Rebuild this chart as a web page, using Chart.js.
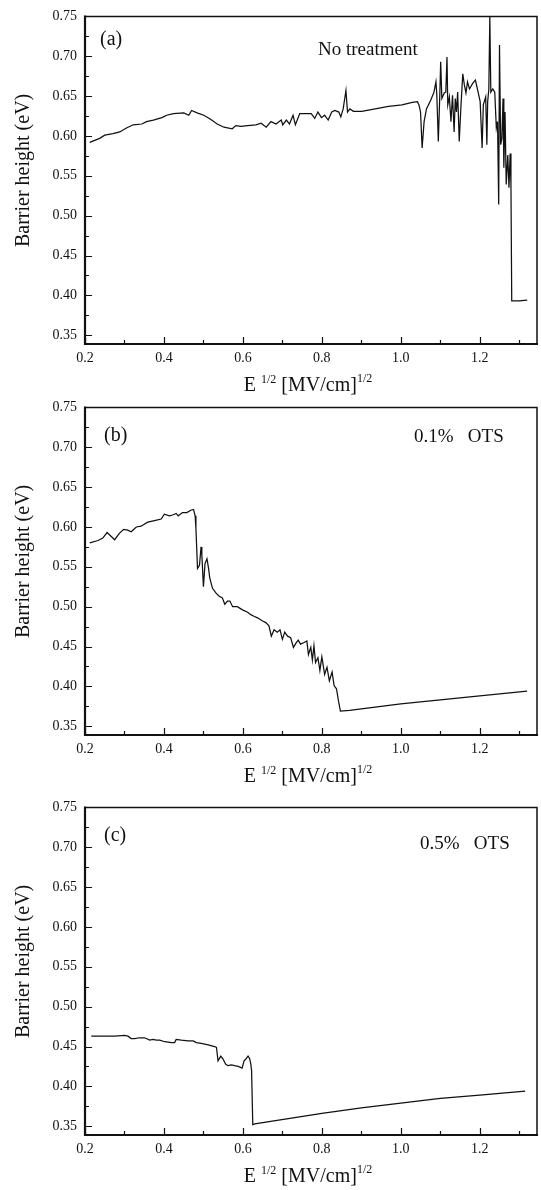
<!DOCTYPE html>
<html>
<head>
<meta charset="utf-8">
<script src="https://cdn.jsdelivr.net/npm/chart.js@4/dist/chart.umd.min.js"></script>
<style>
  body { margin: 0; background: #fff; }
  .panel { position: absolute; left: 0; width: 541px; height: 395px; }
</style>
</head>
<body>
<div class="panel" style="top:0"><canvas id="chartA" width="541" height="395"></canvas></div>
<div class="panel" style="top:391px"><canvas id="chartB" width="541" height="395"></canvas></div>
<div class="panel" style="top:791px"><canvas id="chartC" width="541" height="395"></canvas></div>
<script>
// (a) no treatment
const aX = [0.212, 0.237, 0.25, 0.271, 0.288, 0.305, 0.322, 0.344, 0.356, 0.373, 0.395, 0.407, 0.424, 0.45, 0.463, 0.47, 0.484, 0.501, 0.518, 0.535, 0.552, 0.573, 0.582, 0.595, 0.612, 0.633, 0.646, 0.659, 0.671, 0.684, 0.697, 0.701, 0.71, 0.718, 0.727, 0.733, 0.744, 0.773, 0.782, 0.79, 0.799, 0.807, 0.816, 0.825, 0.833, 0.843, 0.848, 0.854, 0.861, 0.865, 0.871, 0.88, 0.901, 0.935, 0.969, 1.003, 1.029, 1.042, 1.046, 1.05, 1.054, 1.059, 1.065, 1.076, 1.084, 1.089, 1.091, 1.095, 1.099, 1.101, 1.104, 1.11, 1.114, 1.117, 1.119, 1.123, 1.127, 1.131, 1.135, 1.138, 1.141, 1.144, 1.148, 1.152, 1.157, 1.161, 1.165, 1.169, 1.174, 1.182, 1.189, 1.195, 1.201, 1.206, 1.209, 1.215, 1.218, 1.22, 1.223, 1.2255, 1.228, 1.233, 1.238, 1.242, 1.245, 1.248, 1.25, 1.253, 1.256, 1.259, 1.261, 1.264, 1.267, 1.271, 1.274, 1.277, 1.279, 1.281, 1.3, 1.32];
const aY = [0.592, 0.597, 0.601, 0.603, 0.605, 0.61, 0.614, 0.615, 0.618, 0.62, 0.623, 0.626, 0.628, 0.629, 0.626, 0.632, 0.629, 0.626, 0.621, 0.615, 0.611, 0.609, 0.613, 0.612, 0.613, 0.614, 0.616, 0.611, 0.618, 0.615, 0.62, 0.614, 0.62, 0.615, 0.626, 0.614, 0.628, 0.628, 0.622, 0.63, 0.623, 0.626, 0.62, 0.63, 0.632, 0.63, 0.624, 0.634, 0.657, 0.63, 0.634, 0.631, 0.631, 0.634, 0.637, 0.639, 0.642, 0.643, 0.639, 0.63, 0.585, 0.618, 0.634, 0.645, 0.655, 0.668, 0.654, 0.593, 0.655, 0.693, 0.647, 0.654, 0.655, 0.699, 0.639, 0.649, 0.618, 0.651, 0.605, 0.647, 0.63, 0.655, 0.593, 0.634, 0.678, 0.664, 0.654, 0.668, 0.659, 0.666, 0.67, 0.657, 0.643, 0.585, 0.639, 0.649, 0.589, 0.643, 0.659, 0.75, 0.655, 0.659, 0.655, 0.61, 0.618, 0.514, 0.714, 0.589, 0.597, 0.647, 0.56, 0.63, 0.539, 0.576, 0.535, 0.578, 0.539, 0.393, 0.393, 0.394];

// (b) 0.1% OTS
const bX = [0.212, 0.233, 0.245, 0.256, 0.275, 0.287, 0.298, 0.308, 0.317, 0.33, 0.342, 0.359, 0.376, 0.393, 0.401, 0.414, 0.422, 0.431, 0.436, 0.447, 0.458, 0.468, 0.475, 0.479, 0.481, 0.485, 0.49, 0.494, 0.496, 0.5, 0.504, 0.509, 0.513, 0.516, 0.523, 0.532, 0.54, 0.548, 0.554, 0.561, 0.567, 0.574, 0.586, 0.599, 0.612, 0.62, 0.628, 0.637, 0.65, 0.658, 0.666, 0.672, 0.679, 0.687, 0.694, 0.7, 0.706, 0.713, 0.721, 0.728, 0.734, 0.74, 0.746, 0.755, 0.762, 0.766, 0.772, 0.776, 0.78, 0.784, 0.79, 0.795, 0.8, 0.807, 0.813, 0.819, 0.826, 0.831, 0.837, 0.842, 0.847, 0.87, 1.0, 1.2, 1.32];
const bY = [0.58, 0.583, 0.586, 0.593, 0.584, 0.592, 0.597, 0.596, 0.594, 0.6, 0.601, 0.606, 0.608, 0.61, 0.616, 0.614, 0.615, 0.617, 0.614, 0.618, 0.618, 0.621, 0.622, 0.614, 0.598, 0.548, 0.552, 0.575, 0.565, 0.525, 0.554, 0.56, 0.548, 0.536, 0.523, 0.517, 0.513, 0.511, 0.503, 0.507, 0.507, 0.5, 0.5, 0.496, 0.493, 0.49, 0.488, 0.486, 0.482, 0.48, 0.476, 0.463, 0.471, 0.468, 0.471, 0.459, 0.468, 0.463, 0.461, 0.449, 0.454, 0.458, 0.453, 0.455, 0.457, 0.44, 0.449, 0.433, 0.451, 0.43, 0.436, 0.42, 0.437, 0.415, 0.424, 0.407, 0.418, 0.401, 0.397, 0.382, 0.369, 0.37, 0.378, 0.388, 0.394];

// (c) 0.5% OTS
const cX = [0.216, 0.241, 0.275, 0.3, 0.309, 0.317, 0.326, 0.338, 0.351, 0.364, 0.372, 0.381, 0.389, 0.402, 0.419, 0.427, 0.431, 0.444, 0.461, 0.474, 0.482, 0.495, 0.512, 0.528, 0.533, 0.537, 0.544, 0.55, 0.556, 0.562, 0.571, 0.579, 0.588, 0.598, 0.603, 0.607, 0.613, 0.617, 0.62, 0.622, 0.625, 0.63, 0.8, 0.9, 1.0, 1.1, 1.2, 1.315];
const cY = [0.463, 0.463, 0.463, 0.464, 0.463, 0.46, 0.46, 0.461, 0.461, 0.458, 0.459, 0.458, 0.458, 0.456, 0.455, 0.455, 0.459, 0.458, 0.457, 0.457, 0.455, 0.454, 0.452, 0.45, 0.449, 0.432, 0.438, 0.434, 0.428, 0.426, 0.427, 0.426, 0.425, 0.423, 0.432, 0.434, 0.438, 0.435, 0.428, 0.42, 0.352, 0.353, 0.366, 0.373, 0.379, 0.385, 0.389, 0.394];

const panelTags = ['(a)', '(b)', '(c)'];
const panelNotes = ['No treatment', '0.1%   OTS', '0.5%   OTS'];

const serif = '"Liberation Serif", "Times New Roman", serif';
const ink = '#111';

// frame, inward ticks, axis titles and panel notes
const decor = {
  id: 'decor',
  afterDraw(chart, args, o) {
    const { ctx, chartArea: a, scales } = chart;
    ctx.save();
    ctx.strokeStyle = ink;
    ctx.fillStyle = ink;

    ctx.lineWidth = 1.2;
    ctx.beginPath();
    scales.x.ticks.forEach(t => {
      const px = Math.round(scales.x.getPixelForValue(t.value)) + 0.5;
      const len = t.label ? 7 : 4;
      ctx.moveTo(px, a.bottom);
      ctx.lineTo(px, a.bottom - len);
    });
    scales.y.ticks.forEach(t => {
      const py = Math.round(scales.y.getPixelForValue(t.value)) + 0.5;
      const len = t.label ? 7 : 4;
      ctx.moveTo(a.left, py);
      ctx.lineTo(a.left + len, py);
    });
    ctx.stroke();

    ctx.lineWidth = 1.5;
    ctx.beginPath();
    ctx.moveTo(a.left, a.top);
    ctx.lineTo(a.right, a.top);
    ctx.lineTo(a.right, a.bottom);
    ctx.stroke();
    ctx.lineWidth = 2.2;
    ctx.beginPath();
    ctx.moveTo(a.left, a.top - 1);
    ctx.lineTo(a.left, a.bottom);
    ctx.lineTo(a.right + 1, a.bottom);
    ctx.stroke();

    // y title
    ctx.save();
    ctx.translate(24, a.top + 154);
    ctx.rotate(-Math.PI / 2);
    ctx.font = '20px ' + serif;
    ctx.textAlign = 'center';
    ctx.textBaseline = 'middle';
    ctx.fillText('Barrier height (eV)', 0, 0);
    ctx.restore();

    // x title with superscripts
    const big = '20px ' + serif, small = '12px ' + serif;
    const parts = [['E ', big, 0], ['1/2', small, -8], [' [MV/cm]', big, 0], ['1/2', small, -9]];
    let w = 0;
    parts.forEach(p => { ctx.font = p[1]; w += ctx.measureText(p[0]).width; });
    let x = (a.left + a.right) / 2 - 3 - w / 2;
    const base = a.bottom + 47;
    ctx.textAlign = 'left';
    ctx.textBaseline = 'alphabetic';
    parts.forEach(p => {
      ctx.font = p[1];
      ctx.fillText(p[0], x, base + p[2]);
      x += ctx.measureText(p[0]).width;
    });

    // panel tag and note
    ctx.font = '20px ' + serif;
    ctx.fillText(o.tag, o.tagX, a.top + o.tagY);
    ctx.font = '19px ' + serif;
    ctx.fillText(o.note, o.noteX, a.top + o.noteY);
    ctx.restore();
  }
};

function makePanel(id, xs, ys, tag, note, place) {
  const pts = xs.map((x, i) => ({ x: x, y: ys[i] }));
  return new Chart(document.getElementById(id), {
    type: 'line',
    data: {
      datasets: [{
        data: pts,
        borderColor: ink,
        borderWidth: 1.25,
        pointRadius: 0,
        tension: 0,
        fill: false
      }]
    },
    options: {
      responsive: false,
      animation: false,
      events: [],
      layout: { padding: { top: 14, right: 4, left: 0, bottom: 0 } },
      plugins: {
        legend: { display: false },
        tooltip: { enabled: false },
        decor: Object.assign({ tag: tag, note: note }, place)
      },
      scales: {
        x: {
          type: 'linear',
          min: 0.2,
          max: 1.345,
          grid: { display: false, drawTicks: false },
          border: { display: false },
          ticks: {
            stepSize: 0.1,
            includeBounds: false,
            autoSkip: false,
            maxRotation: 0,
            padding: 6,
            color: ink,
            font: { family: serif, size: 14 },
            callback: v => (Math.round(v * 10) % 2 === 0 ? v.toFixed(1) : '')
          },
          afterFit: s => { s.height = 51; }
        },
        y: {
          min: 0.339,
          max: 0.75,
          grid: { display: false, drawTicks: false },
          border: { display: false },
          ticks: {
            stepSize: 0.025,
            includeBounds: false,
            autoSkip: false,
            padding: 8,
            color: ink,
            font: { family: serif, size: 14 },
            callback: v => (Math.round(v * 1000) % 50 === 0 ? v.toFixed(2) : '')
          },
          afterFit: s => { s.width = 85; }
        }
      }
    },
    plugins: [decor]
  });
}

makePanel('chartA', aX, aY, panelTags[0], panelNotes[0], { tagX: 100, tagY: 29, noteX: 318, noteY: 39 });
makePanel('chartB', bX, bY, panelTags[1], panelNotes[1], { tagX: 104, tagY: 34, noteX: 414, noteY: 35 });
makePanel('chartC', cX, cY, panelTags[2], panelNotes[2], { tagX: 104, tagY: 34, noteX: 420, noteY: 42 });
</script>
</body>
</html>
